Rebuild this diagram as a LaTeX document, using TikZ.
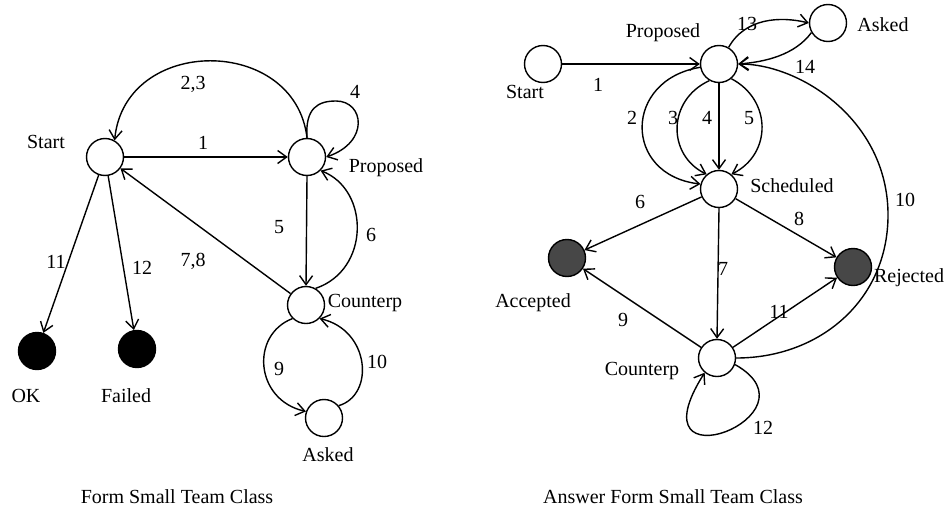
\documentclass[tikz,border=0pt]{standalone}
\usepackage{fontspec}
\setmainfont{Liberation Serif}
\usepackage{tikz}
\usetikzlibrary{arrows.meta}

\begin{document}
\begin{tikzpicture}[
  x=0.5pt, y=-0.5pt,
  >={Straight Barb[length=4.5pt, width=6.5pt]},
  every node/.style={font=\normalsize, inner sep=0pt},
  state/.style={circle, draw, line width=0.7pt, minimum size=18.5pt},
  final/.style={state, fill=black},
  greyfinal/.style={state, fill=black!72},
  trans/.style={draw, ->, line width=0.7pt},
  num/.style={font=\normalsize},
  caption/.style={font=\normalsize}
]
\useasboundingbox (0,0) rectangle (945,508);

% ---- left: Form Small Team Class
\node[state] (S1) at (105,157) {};
\node[state] (P1) at (307,157) {};
\node[state] (C1) at (306,305) {};
\node[state] (A1) at (324,418) {};
\node[final] (OK) at (37,351) {};
\node[final] (F1) at (137,349) {};

\node (tS1) at (46,142) {Start};
\node (tP1) at (386,168) {Proposed};
\node (tC1) at (365,303) {Counterp};
\node (tA1) at (328,455) {Asked};
\node (tOK) at (26,396) {OK};
\node (tF1) at (126,396) {Failed};

\draw[trans] (S1) -- (P1);
\draw[trans] (P1.north) .. controls (295,35) and (125,35) .. (S1.60);
\draw[trans] (P1.north) .. controls (305,108) and (318,101) .. (336,101)
  .. controls (364,101) and (370,142) .. (P1.east);
\draw[trans] (P1.south) -- (C1.north);
\draw[trans] (C1.60) .. controls (370,270) and (370,190) .. (P1.-45);
\draw[trans] (C1) -- (S1);
\draw[trans] (S1) -- (OK);
\draw[trans] (S1) -- (F1);
\draw[trans] (C1.225) .. controls (250,335) and (255,400) .. (A1.160);
\draw[trans] (A1.40) .. controls (375,395) and (370,330) .. (C1.-45);

\node[num] (n1a) at (203,143) {1};
\node[num] (n23a) at (193,84) {2,3};
\node[num] (n4a) at (355,92) {4};
\node[num] (n5a) at (279,227) {5};
\node[num] (n6a) at (371,235) {6};
\node[num] (n78a) at (193,261) {7,8};
\node[num] (n11a) at (56,262) {11};
\node[num] (n12a) at (142,268) {12};
\node[num] (n9a) at (279,369) {9};
\node[num] (n10a) at (377,362) {10};

\node[caption] (cap1) at (177,497) {Form Small Team Class};

% ---- right: Answer Form Small Team Class
\node[state] (S2) at (543,64) {};
\node[state] (P2) at (719,64) {};
\node[state] (K2) at (828,23) {};
\node[state] (Sc) at (719,189) {};
\node[greyfinal] (Acc) at (567,258) {};
\node[greyfinal] (Rej) at (853,267) {};
\node[state] (C2) at (717,358) {};

\node (tS2) at (525,92) {Start};
\node (tP2) at (663,33) {Proposed};
\node (tK2) at (883,25) {Asked};
\node (tSc) at (792,186) {Scheduled};
\node (tAcc) at (533,303) {Accepted};
\node (tRej) at (909,278) {Rejected};
\node (tC2) at (642,371) {Counterp};

\draw[trans] (S2) -- (P2);
\draw[trans] (P2.60) .. controls (745,18) and (780,16) .. (K2.west);
\draw[trans] (K2.210) .. controls (795,55) and (765,62) .. (P2.east);
\draw[trans] (P2.190) .. controls (623,80) and (623,175) .. (Sc.165);
\draw[trans] (P2.240) .. controls (667,100) and (667,155) .. (Sc.130);
\draw[trans] (P2.south) -- (Sc.north);
\draw[trans] (P2.-50) .. controls (772,100) and (772,154) .. (Sc.50);
\draw[trans] (Sc) -- (Acc);
\draw[trans] (Sc) -- (Rej);
\draw[trans] (Sc.south) -- (C2.north);
\draw[trans] (C2) -- (Acc);
\draw[trans] (C2) -- (Rej);
\draw[trans] (C2.east) .. controls (820,358) and (888,300) .. (888,215)
  .. controls (888,120) and (800,64) .. (P2.east);
\draw[trans] (C2.-20) .. controls (825,415) and (630,490) .. (C2.230);

\node[num] (n1b) at (598,85) {1};
\node[num] (n13b) at (747,24) {13};
\node[num] (n14b) at (805,67) {14};
\node[num] (n2b) at (632,118) {2};
\node[num] (n3b) at (673,118) {3};
\node[num] (n4b) at (707,118) {4};
\node[num] (n5b) at (749,118) {5};
\node[num] (n6b) at (640,202) {6};
\node[num] (n8b) at (799,219) {8};
\node[num] (n10b) at (905,200) {10};
\node[num] (n7b) at (723,269) {7};
\node[num] (n9b) at (623,320) {9};
\node[num] (n11b) at (779,312) {11};
\node[num] (n12b) at (763,428) {12};

\node[caption] (cap2) at (673,497) {Answer Form Small Team Class};

\end{tikzpicture}
\end{document}
